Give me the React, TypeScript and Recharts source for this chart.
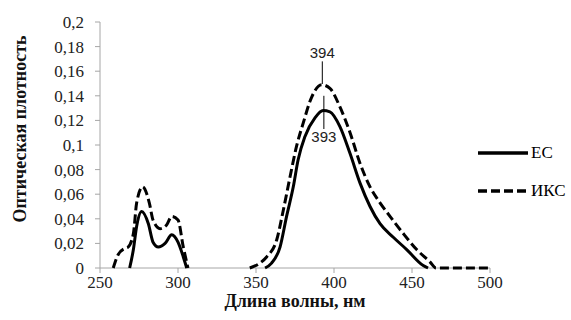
import React from "react";
import {
  LineChart,
  Line,
  XAxis,
  YAxis,
  Legend,
  ReferenceLine,
  ReferenceDot,
} from "recharts";

// ЕС (solid)
const esWavelength = [
  269, 271.4, 273.5, 276.7, 281, 284, 287.4, 291.7, 296, 300, 303.4, 305.6, 330, 355.8, 360, 365.4,
  369.6, 373.9, 377, 381.4, 387.8, 393, 397.4, 403.8, 410.3, 416.7, 423.1, 429.5, 438, 446.6, 457.2,
  460.3,
];
const esValue = [
  0, 0.015, 0.034, 0.046, 0.036, 0.021, 0.017, 0.02, 0.027, 0.021, 0.009, 0, null, 0, 0.004, 0.017,
  0.042, 0.066, 0.088, 0.107, 0.122, 0.128, 0.127, 0.115, 0.093, 0.069, 0.05, 0.036, 0.025, 0.015,
  0.002, 0,
];

// ИКС (dashed)
const iksWavelength = [
  258.5, 261.7, 266, 268, 271.4, 273.5, 277.3, 281.6, 284, 288.5, 292.7, 296, 300, 303.4, 306.4, 328,
  346, 352.5, 356.8, 363.3, 367.5, 371.8, 376, 380.3, 385.7, 392.1, 397.4, 403.8, 410.3, 416.7, 423.1,
  429.5, 435.9, 444.4, 453, 461.5, 465.4, 480, 500,
];
const iksValue = [
  0, 0.011, 0.016, 0.017, 0.028, 0.053, 0.066, 0.053, 0.039, 0.032, 0.035, 0.042, 0.039, 0.017, 0,
  null, 0, 0.004, 0.009, 0.023, 0.047, 0.074, 0.099, 0.118, 0.139, 0.149, 0.146, 0.131, 0.11, 0.085,
  0.066, 0.053, 0.042, 0.028, 0.015, 0.005, 0, 0, 0,
];

const xTicks = [250, 300, 350, 400, 450, 500];
const yTicks = [0, 0.02, 0.04, 0.06, 0.08, 0.1, 0.12, 0.14, 0.16, 0.18, 0.2];

// peak marks: leader line from..to, label
const iksPeak = { x: 392.5, from: 0.1496, to: 0.168, label: "394" };
const esPeak = { x: 393.5, from: 0.14, to: 0.113, label: "393" };

const esData = esWavelength.map((x, i) => ({ x, y: esValue[i] }));
const iksData = iksWavelength.map((x, i) => ({ x, y: iksValue[i] }));

const AXIS = "#a6a6a6";
const SERIF = "'Liberation Serif', 'Times New Roman', serif";

const fmt = (v: number) => String(Number(v.toFixed(2))).replace(".", ",");

const renderLegend = (props: any) => (
  <div>
    {props.payload.map((e: any, i: number) => (
      <div
        key={i}
        style={{ display: "flex", alignItems: "center", height: 38, fontFamily: SERIF, fontSize: 17 }}
      >
        <svg width={54} height={10}>
          <line
            x1={2}
            y1={5}
            x2={52}
            y2={5}
            stroke="#000"
            strokeWidth={3.5}
            strokeDasharray={e.payload?.strokeDasharray}
          />
        </svg>
        <span style={{ marginLeft: 1, color: "#000", fontFamily: SERIF }}>{e.value}</span>
      </div>
    ))}
  </div>
);

const YTitle = () => (
  <text
    x={0}
    y={0}
    transform="translate(20,129) rotate(-90)"
    textAnchor="middle"
    dominantBaseline="central"
    fill="#111"
    fontSize={18}
    fontWeight="bold"
    fontFamily={SERIF}
  >
    Оптическая плотность
  </text>
);

export default function App() {
  return (
    <div style={{ position: "absolute", left: 0, top: 0, background: "#fff" }}>
      <LineChart width={571} height={320} margin={{ top: 22, right: 81, left: 0, bottom: 0 }}>
        <XAxis
          type="number"
          dataKey="x"
          domain={[250, 500]}
          ticks={xTicks}
          interval={0}
          stroke={AXIS}
          tickSize={5}
          tickMargin={3}
          height={52}
          tick={{ fill: "#222", fontSize: 17, fontFamily: SERIF }}
          label={{
            value: "Длина волны, нм",
            position: "insideBottom",
            offset: 13,
            fill: "#111",
            fontSize: 18,
            fontWeight: "bold",
            fontFamily: SERIF,
          }}
        />
        <YAxis
          type="number"
          domain={[0, 0.2]}
          ticks={yTicks}
          interval={0}
          width={100}
          stroke={AXIS}
          tickSize={5}
          tickMargin={11}
          tickFormatter={fmt}
          tick={{ fill: "#222", fontSize: 17, fontFamily: SERIF }}
          label={<YTitle />}
        />
        <Legend
          layout="vertical"
          align="center"
          verticalAlign="middle"
          content={renderLegend}
          wrapperStyle={{ position: "absolute", left: 476, top: 134, width: 95 }}
        />
        <Line
          data={esData}
          dataKey="y"
          name="ЕС"
          type="monotone"
          stroke="#000"
          strokeWidth={3}
          dot={false}
          activeDot={false}
          isAnimationActive={false}
          zIndex={1000}
        />
        <Line
          data={iksData}
          dataKey="y"
          name="ИКС"
          type="monotone"
          stroke="#000"
          strokeWidth={3}
          strokeDasharray="9 4"
          dot={false}
          activeDot={false}
          isAnimationActive={false}
          zIndex={1000}
        />
        <ReferenceLine
          segment={[
            { x: iksPeak.x, y: iksPeak.from },
            { x: iksPeak.x, y: iksPeak.to },
          ]}
          stroke="#000"
          strokeWidth={1}
        />
        <ReferenceDot
          x={iksPeak.x}
          y={iksPeak.to}
          r={0}
          stroke="none"
          label={{ value: iksPeak.label, position: "top", offset: 3, fill: "#222", fontSize: 15, fontFamily: "'Liberation Sans', sans-serif" }}
        />
        <ReferenceLine
          segment={[
            { x: esPeak.x, y: esPeak.from },
            { x: esPeak.x, y: esPeak.to },
          ]}
          stroke="#000"
          strokeWidth={1}
        />
        <ReferenceDot
          x={esPeak.x}
          y={esPeak.to}
          r={0}
          stroke="none"
          label={{ value: esPeak.label, position: "bottom", offset: 2, fill: "#222", fontSize: 15, fontFamily: "'Liberation Sans', sans-serif" }}
        />
      </LineChart>
    </div>
  );
}
